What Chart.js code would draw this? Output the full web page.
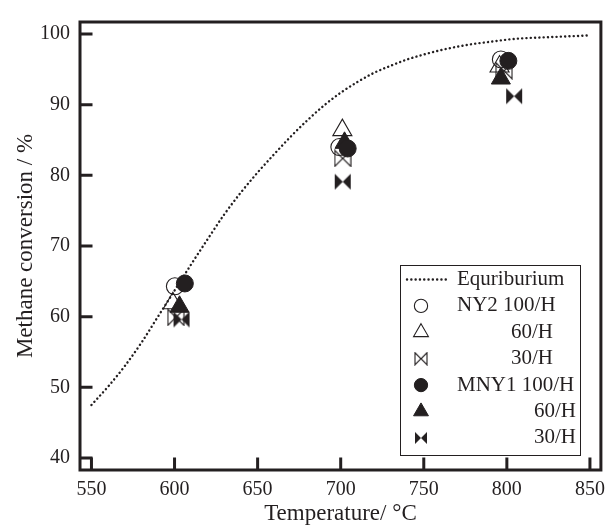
<!DOCTYPE html>
<html>
<head>
<meta charset="utf-8">
<script src="https://cdn.jsdelivr.net/npm/chart.js@4.4.0/dist/chart.umd.min.js"></script>
<style>
  html, body { margin: 0; padding: 0; background: #fff; }
</style>
</head>
<body>
<canvas id="chart" width="613" height="530"></canvas>
<script>
const ink = '#231f20';

// equilibrium curve (dotted line), read every 10 degC
const eqTemp = [550, 560, 570, 580, 590, 600, 610, 620, 630, 640, 650, 660, 670, 680, 690, 700,
                710, 720, 730, 740, 750, 760, 770, 780, 790, 800, 810, 820, 830, 840, 850];
const eqConv = [47.5, 50.1, 53.0, 56.3, 60.0, 63.7, 67.4, 71.0, 74.5, 77.6, 80.4, 83.0, 85.5, 87.8, 89.9, 91.7,
                93.2, 94.5, 95.5, 96.4, 97.1, 97.7, 98.2, 98.6, 98.9, 99.2, 99.4, 99.5, 99.6, 99.7, 99.8];

// measured points (markers are drawn slightly offset in temperature in the figure)
const ny2_100_T = [600.2, 699.2, 796.4];
const ny2_100 = [64.3, 84.0, 96.4];
const ny2_60_T = [599.0, 701.0, 795.6];
const ny2_60 = [61.9, 86.4, 95.4];
const ny2_30_T = [600.8, 701.2, 798.3];
const ny2_30 = [59.9, 82.4, 94.8];
const mny1_100_T = [606.2, 704.2, 800.9];
const mny1_100 = [64.7, 83.8, 96.2];
const mny1_60_T = [603.0, 702.3, 796.4];
const mny1_60 = [61.4, 84.6, 93.7];
const mny1_30_T = [604.2, 701.2, 804.4];
const mny1_30 = [59.6, 79.1, 91.2];

const legendLabels = ['Equriburium', 'NY2 100/H', '60/H', '30/H', 'MNY1 100/H', '60/H', '30/H'];
const xTitle = 'Temperature/ \u00b0C';
const yTitle = 'Methane conversion / %';

const pts = (xs, ys) => xs.map((x, i) => ({ x: x, y: ys[i] }));

// bowtie marker (⋈), open or filled
function bowtie(filled, size) {
  const c = document.createElement('canvas');
  c.width = size; c.height = size;
  const g = c.getContext('2d');
  const m = size / 2, e = size - 1;
  g.beginPath();
  g.moveTo(1, 1); g.lineTo(m, m); g.lineTo(1, e); g.closePath();
  g.moveTo(e, 1); g.lineTo(m, m); g.lineTo(e, e); g.closePath();
  if (filled) {
    g.fillStyle = ink; g.fill();
  } else {
    g.strokeStyle = ink; g.lineWidth = 1.1; g.stroke();
  }
  return c;
}

const openBow = bowtie(false, 18);
const fullBow = bowtie(true, 18);
const openBowSmall = bowtie(false, 14);
const fullBowSmall = bowtie(true, 14);

const serif = '"Liberation Serif", "Times New Roman", serif';
Chart.defaults.font.family = serif;
Chart.defaults.color = ink;

function marker(label, data, style, filled, radius, order) {
  return {
    label: label,
    data: data,
    pointStyle: style,
    pointRadius: radius,
    pointBackgroundColor: filled ? ink : 'rgba(0,0,0,0)',
    pointBorderColor: ink,
    pointBorderWidth: filled ? 1 : 1.1,
    showLine: false,
    order: order
  };
}

// frame, inward tick marks and boxed legend
const framePlugin = {
  id: 'frame',
  afterDatasetsDraw(chart) {
    const ctx = chart.ctx;
    const a = chart.chartArea;
    const xs = chart.scales.x, ys = chart.scales.y;
    ctx.save();
    ctx.strokeStyle = ink;
    ctx.lineWidth = 3;
    ctx.beginPath();
    ys.ticks.forEach(t => {
      const p = ys.getPixelForValue(t.value);
      ctx.moveTo(a.left, p); ctx.lineTo(a.left + 12.5, p);
    });
    xs.ticks.forEach(t => {
      const p = xs.getPixelForValue(t.value);
      ctx.moveTo(p, a.bottom); ctx.lineTo(p, a.bottom - 12.5);
    });
    ctx.stroke();
    ctx.strokeRect(a.left, a.top, a.right - a.left, a.bottom - a.top);

    // legend
    const lx = 400, ly = 265, lw = 180, lh = 190;
    ctx.fillStyle = '#fff';
    ctx.fillRect(lx, ly, lw, lh);
    ctx.lineWidth = 1;
    ctx.strokeRect(lx + 0.5, ly + 0.5, lw, lh);
    ctx.font = '21px ' + serif;
    ctx.textBaseline = 'middle';
    chart.data.datasets.forEach((ds, i) => {
      const y = ly + 14.5 + i * 26.4;
      ctx.fillStyle = ink;
      ctx.strokeStyle = ink;
      if (ds.showLine) {
        ctx.lineWidth = ds.borderWidth;
        ctx.lineCap = 'round';
        ctx.setLineDash(ds.borderDash);
        ctx.beginPath();
        ctx.moveTo(407, y); ctx.lineTo(446, y);
        ctx.stroke();
        ctx.setLineDash([]);
        ctx.lineCap = 'butt';
      } else if (typeof ds.pointStyle !== 'string') {
        const img = ds.pointStyle === fullBow ? fullBowSmall : openBowSmall;
        ctx.drawImage(img, 421 - img.width / 2, y - img.height / 2);
      } else {
        ctx.fillStyle = ds.pointBackgroundColor;
        ctx.lineWidth = ds.pointBorderWidth;
        Chart.helpers.drawPoint(ctx, {
          pointStyle: ds.pointStyle, radius: ds.pointRadius * 0.78,
          borderWidth: ds.pointBorderWidth, rotation: 0
        }, 421, y);
      }
      ctx.fillStyle = ink;
      if (i === 2 || i === 3) {
        ctx.textAlign = 'right'; ctx.fillText(ds.label, 553, y);
      } else if (i === 5 || i === 6) {
        ctx.textAlign = 'right'; ctx.fillText(ds.label, 576, y);
      } else {
        ctx.textAlign = 'left'; ctx.fillText(ds.label, 457, y);
      }
    });
    ctx.restore();
  }
};

new Chart(document.getElementById('chart'), {
  type: 'scatter',
  data: {
    datasets: [
      {
        label: legendLabels[0],
        data: pts(eqTemp, eqConv),
        showLine: true,
        borderColor: ink,
        borderWidth: 2.4,
        borderDash: [0.1, 4.2],
        borderCapStyle: 'round',
        pointRadius: 0,
        cubicInterpolationMode: 'monotone',
        order: 10
      },
      marker(legendLabels[1], pts(ny2_100_T, ny2_100), 'circle', false, 8.5, 6),
      marker(legendLabels[2], pts(ny2_60_T, ny2_60), 'triangle', false, 11, 5),
      marker(legendLabels[3], pts(ny2_30_T, ny2_30), openBow, false, 9, 4),
      marker(legendLabels[4], pts(mny1_100_T, mny1_100), 'circle', true, 8.5, 1),
      marker(legendLabels[5], pts(mny1_60_T, mny1_60), 'triangle', true, 11, 2),
      marker(legendLabels[6], pts(mny1_30_T, mny1_30), fullBow, true, 9, 3)
    ]
  },
  options: {
    responsive: false,
    animation: false,
    events: [],
    layout: { padding: { left: 0, top: 10, right: 11, bottom: 0 } },
    plugins: { legend: { display: false }, tooltip: { enabled: false } },
    scales: {
      x: {
        type: 'linear',
        min: 543.1,
        max: 856.6,
        ticks: { stepSize: 50, includeBounds: false, padding: 8, font: { size: 20 }, color: ink, maxRotation: 0 },
        grid: { display: false, drawTicks: false },
        border: { display: false },
        title: { display: true, text: xTitle, font: { size: 23 }, color: ink, padding: { top: 0, bottom: 2 } },
        afterBuildTicks: s => { s.min = 543.1; s.max = 856.6; },
        afterFit: s => { s.height = 60; s.paddingLeft = 0; s.paddingRight = 0; }
      },
      y: {
        type: 'linear',
        min: 38.3,
        max: 101.7,
        ticks: { stepSize: 10, includeBounds: false, padding: 10, font: { size: 20 }, color: ink },
        grid: { display: false, drawTicks: false },
        border: { display: false },
        title: { display: true, text: yTitle, font: { size: 23 }, color: ink, padding: { top: 12, bottom: 0 } },
        afterBuildTicks: s => { s.min = 38.3; s.max = 101.7; },
        afterFit: s => { s.width = 80; }
      }
    }
  },
  plugins: [framePlugin]
});
</script>
</body>
</html>
